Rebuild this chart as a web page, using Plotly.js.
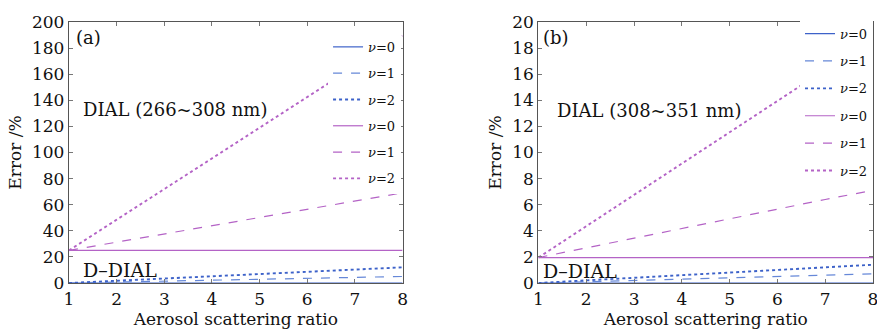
<!DOCTYPE html>
<html><head><meta charset="utf-8">
<script src="https://cdn.plot.ly/plotly-3.0.1.min.js"></script>
<style>html,body{margin:0;padding:0;background:#fff}</style>
</head><body><div id="chart" style="width:877px;height:332px"></div>
<script>
// Aerosol scattering ratio
const xRatio = [1, 2, 3, 4, 5, 6, 7, 8];
const legendNames = ['<i>ν</i>=0', '<i>ν</i>=1', '<i>ν</i>=2'];

// Panel (a): D-DIAL (blue) and DIAL 266~308 nm (magenta), Error %
const a_ddial_v0 = [0, 0, 0, 0, 0, 0, 0, 0];
const a_ddial_v1 = [0, 0.7, 1.4, 2.1, 2.9, 3.6, 4.3, 5.0];
const a_ddial_v2 = [0, 1.8, 3.5, 5.2, 6.9, 8.6, 10.3, 12.0];
const a_dial_v0 = [25, 25, 25, 25, 25, 25, 25, 25];
const a_dial_v1 = [25, 31.3, 37.6, 43.9, 50.2, 56.5, 62.8, 69.1];
const a_dial_v2 = [25, 48.5, 72, 95.5, 119, 142.5, 166, 189.5];

// Panel (b): D-DIAL (blue) and DIAL 308~351 nm (magenta), Error %
const b_ddial_v0 = [0, 0, 0, 0, 0, 0, 0, 0];
const b_ddial_v1 = [0, 0.1, 0.2, 0.3, 0.4, 0.5, 0.6, 0.7];
const b_ddial_v2 = [0, 0.2, 0.4, 0.6, 0.8, 1.0, 1.2, 1.4];
const b_dial_v0 = [1.95, 1.95, 1.95, 1.95, 1.95, 1.95, 1.95, 1.95];
const b_dial_v1 = [1.95, 2.7, 3.45, 4.2, 4.95, 5.65, 6.4, 7.1];
const b_dial_v2 = [1.95, 4.35, 6.75, 9.15, 11.55, 13.95, 16.35, 18.75];

const blue = '#3d62c9', blueL = '#6688d8', magenta = '#b463c6';
const serif = 'DejaVu Serif';

function tr(y, color, dash, name, xa, ya, leg, grp, w) {
  return {x: xRatio, y: y, type: 'scatter', mode: 'lines', name: name,
    xaxis: xa, yaxis: ya, legend: leg, legendgroup: grp,
    line: {color: color, dash: dash, width: w || 1.2}};
}
const dotW = 1.9;
const traces = [
  tr(a_ddial_v0, blue, 'solid', legendNames[0], 'x', 'y', 'legend', 'a1'),
  tr(a_ddial_v1, blueL, 'dash', legendNames[1], 'x', 'y', 'legend', 'a2'),
  tr(a_ddial_v2, blue, 'dot', legendNames[2], 'x', 'y', 'legend', 'a3', dotW),
  tr(a_dial_v0, magenta, 'solid', legendNames[0], 'x', 'y', 'legend', 'a4'),
  tr(a_dial_v1, magenta, 'dash', legendNames[1], 'x', 'y', 'legend', 'a5'),
  tr(a_dial_v2, magenta, 'dot', legendNames[2], 'x', 'y', 'legend', 'a6', dotW),
  tr(b_ddial_v0, blue, 'solid', legendNames[0], 'x2', 'y2', 'legend2', 'b1'),
  tr(b_ddial_v1, blueL, 'dash', legendNames[1], 'x2', 'y2', 'legend2', 'b2'),
  tr(b_ddial_v2, blue, 'dot', legendNames[2], 'x2', 'y2', 'legend2', 'b3', dotW),
  tr(b_dial_v0, magenta, 'solid', legendNames[0], 'x2', 'y2', 'legend2', 'b4'),
  tr(b_dial_v1, magenta, 'dash', legendNames[1], 'x2', 'y2', 'legend2', 'b5'),
  tr(b_dial_v2, magenta, 'dot', legendNames[2], 'x2', 'y2', 'legend2', 'b6', dotW)
];

function f(size) { return {family: serif, size: size, color: '#111'}; }
function xax(domain, anchor) {
  return {domain: domain, anchor: anchor, range: [1, 8], dtick: 1,
    showline: true, mirror: 'ticks', linecolor: '#555', linewidth: 1.2,
    ticks: 'inside', ticklen: 4, tickcolor: '#777', showgrid: false, zeroline: false,
    ticklabeloverflow: 'allow',
    tickfont: f(17), title: {text: 'Aerosol scattering ratio', font: f(17), standoff: 3}};
}
function yax(range, dtick, anchor) {
  return {domain: [0, 1], anchor: anchor, range: range, dtick: dtick,
    showline: true, mirror: 'ticks', linecolor: '#555', linewidth: 1.2,
    ticks: 'inside', ticklen: 4, tickcolor: '#777', showgrid: false, zeroline: false,
    tickfont: f(17), title: {text: 'Error /%', font: f(17), standoff: 6}};
}
function leg(x, y, gap) {
  return {x: x, y: y, xanchor: 'right', yanchor: 'top', bgcolor: 'rgba(255,255,255,1)',
    borderwidth: 0, font: f(13), traceorder: 'grouped', tracegroupgap: gap,
    itemwidth: 30};
}
const layout = {
  width: 877, height: 332,
  font: f(17),
  margin: {l: 69, r: 4, t: 22, b: 49},
  paper_bgcolor: '#fff', plot_bgcolor: '#fff',
  showlegend: true,
  xaxis: xax([0, 0.4149], 'y'),
  yaxis: yax([0, 200], 20, 'x'),
  xaxis2: xax([0.5839, 1], 'y2'),
  yaxis2: yax([0, 20], 2, 'x2'),
  legend: leg(0.413, 0.962, 6.4),
  legend2: leg(1.0, 1.013, 7.5),
  annotations: [
    {xref: 'x', yref: 'y', x: 1.1, y: 198, xanchor: 'left', yanchor: 'top', text: '(a)', showarrow: false, font: f(18)},
    {xref: 'x', yref: 'y', x: 1.25, y: 133, xanchor: 'left', yanchor: 'middle', text: 'DIAL (266~308 nm)', showarrow: false, font: f(18)},
    {xref: 'x', yref: 'y', x: 1.25, y: 10, xanchor: 'left', yanchor: 'middle', text: 'D–DIAL', showarrow: false, font: f(19)},
    {xref: 'x2', yref: 'y2', x: 1.05, y: 19.8, xanchor: 'left', yanchor: 'top', text: '(b)', showarrow: false, font: f(18)},
    {xref: 'x2', yref: 'y2', x: 1.35, y: 13.2, xanchor: 'left', yanchor: 'middle', text: 'DIAL (308~351 nm)', showarrow: false, font: f(18)},
    {xref: 'x2', yref: 'y2', x: 1.05, y: 0.95, xanchor: 'left', yanchor: 'middle', text: 'D–DIAL', showarrow: false, font: f(19)}
  ]
};
Plotly.newPlot('chart', traces, layout, {staticPlot: true, displayModeBar: false});
</script></body></html>
